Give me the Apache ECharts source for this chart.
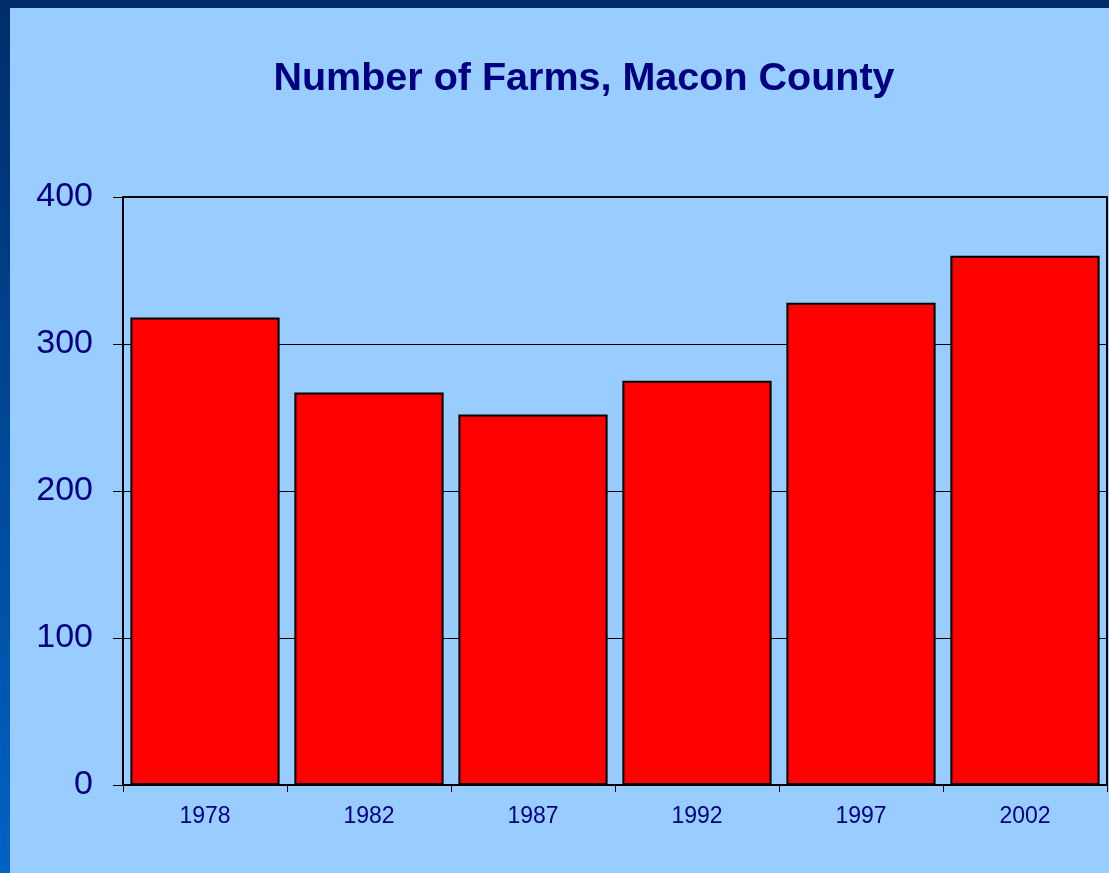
<!DOCTYPE html>
<html>
<head>
<meta charset="utf-8">
<script src="https://cdn.jsdelivr.net/npm/echarts@6/dist/echarts.min.js"></script>
<style>
  html, body { margin: 0; padding: 0; width: 1109px; height: 873px; overflow: hidden; }
  body { background: linear-gradient(to bottom, #002d6a, #0062c4); }
  .chart { position: absolute; left: 10px; top: 8px; width: 1099px; height: 865px; }
</style>
</head>
<body>
<div class="chart"></div>
<script>
  var years = ['1978', '1982', '1987', '1992', '1997', '2002'];
  var farms = [318, 267, 252, 275, 328, 360];
  var yTicks = [0, 100, 200, 300, 400];

  var myChart = echarts.init(document.querySelector('.chart'));
  var navy = '#000080';

  var option = {
    backgroundColor: '#99ccff',
    animation: false,
    title: {
      text: 'Number of Farms, Macon County',
      left: 569,
      top: 46,
      textAlign: 'center',
      textStyle: {
        color: navy,
        fontFamily: 'Liberation Sans, Arial, sans-serif',
        fontWeight: 'bold',
        fontSize: 39.5
      }
    },
    grid: {
      left: 113,
      top: 189,
      right: 2,
      bottom: 88,
      show: true,
      borderColor: '#000',
      borderWidth: 2,
      backgroundColor: 'transparent'
    },
    xAxis: {
      type: 'category',
      data: years,
      axisLine: { lineStyle: { color: '#000', width: 2 } },
      axisTick: { show: true, length: 7, lineStyle: { color: '#000', width: 1 } },
      axisLabel: {
        color: navy,
        fontFamily: 'Liberation Sans, Arial, sans-serif',
        fontSize: 23,
        margin: 20
      }
    },
    yAxis: {
      type: 'value',
      min: yTicks[0],
      max: yTicks[yTicks.length - 1],
      interval: 100,
      axisLine: { show: true, lineStyle: { color: '#000', width: 2 } },
      axisTick: { show: true, length: 10, lineStyle: { color: '#000', width: 1 } },
      splitLine: { show: true, lineStyle: { color: '#000', width: 1 } },
      axisLabel: {
        color: navy,
        fontFamily: 'Liberation Sans, Arial, sans-serif',
        fontSize: 34,
        margin: 30
      }
    },
    series: [{
      type: 'bar',
      data: farms,
      barCategoryGap: '9%',
      itemStyle: {
        color: '#ff0000',
        borderColor: '#000',
        borderWidth: 2
      }
    }]
  };

  myChart.setOption(option);
</script>
</body>
</html>
